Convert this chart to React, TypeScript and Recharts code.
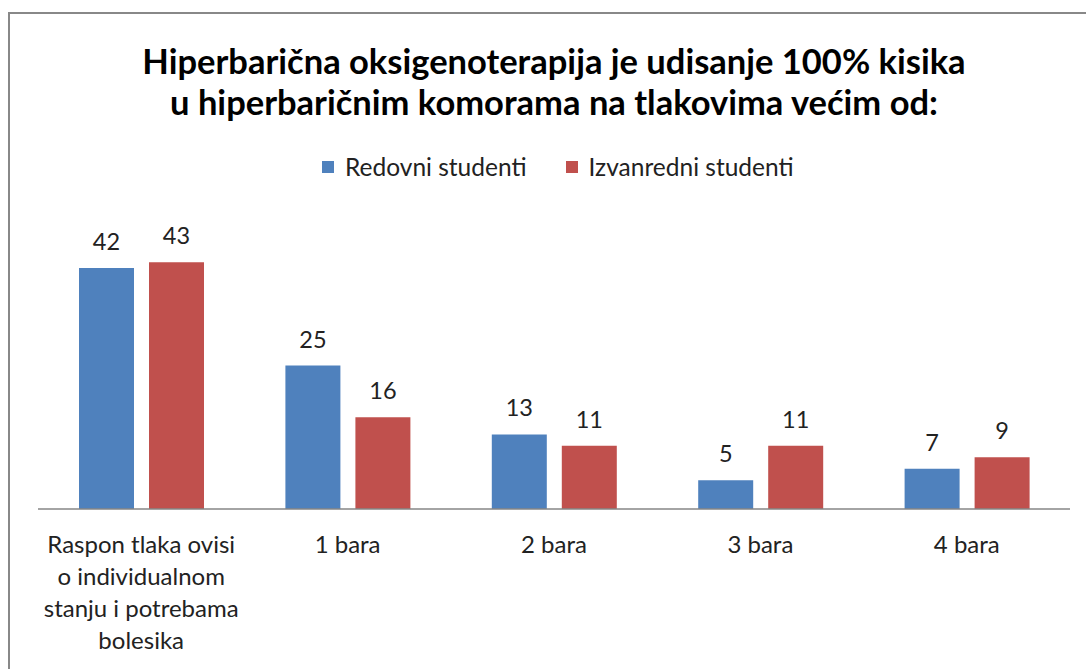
import React from 'react'
import { BarChart, Bar, XAxis, YAxis, LabelList } from 'recharts'

const categories = [
  'Raspon tlaka ovisi o individualnom stanju i potrebama bolesika',
  '1 bara',
  '2 bara',
  '3 bara',
  '4 bara',
]
const redovni = [42, 25, 13, 5, 7]
const izvanredni = [43, 16, 11, 11, 9]
const seriesNames = ['Redovni studenti', 'Izvanredni studenti']
const seriesColors = ['#4F81BD', '#C0504D']
const titleLines = [
  'Hiperbarična oksigenoterapija je udisanje 100% kisika',
  'u hiperbaričnim komorama na tlakovima većim od:',
]

const data = categories.map((c, i) => ({
  name: c,
  redovni: redovni[i],
  izvanredni: izvanredni[i],
}))

const FONT = 'Lato, "Open Sans", sans-serif'

function wrap(text: string, max: number) {
  const words = text.split(' ')
  const lines: string[] = []
  let cur = ''
  for (const w of words) {
    const next = cur ? cur + ' ' + w : w
    if (next.length > max && cur) {
      lines.push(cur)
      cur = w
    } else {
      cur = next
    }
  }
  if (cur) lines.push(cur)
  return lines
}

function CategoryTick({ x, y, payload }: any) {
  const lines = wrap(payload.value, 18)
  return (
    <text x={x} y={y + 36} textAnchor="middle" fill="#222" fontSize={24} fontFamily={FONT}>
      {lines.map((l, i) => (
        <tspan key={i} x={x} dy={i === 0 ? 0 : 32}>
          {l}
        </tspan>
      ))}
    </text>
  )
}

export default function App() {
  return (
    <div style={{
      position: 'absolute',
      left: 0,
      top: 0,
      width: 1086,
      height: 669,
      background: '#fff',
      overflow: 'hidden',
      fontFamily: FONT,
    }}>
      <div style={{
        position: 'absolute',
        left: 8,
        top: 12,
        width: 1200,
        height: 800,
        border: '2px solid #888',
      }} />
      <div style={{
        position: 'absolute',
        left: 0,
        top: 40,
        width: 1108,
        textAlign: 'center',
        fontSize: 34.5,
        fontWeight: 700,
        lineHeight: '41px',
        color: '#000',
      }}>
        {titleLines.map((t) => <div key={t}>{t}</div>)}
      </div>
      <div style={{
        position: 'absolute',
        left: 322,
        top: 151,
        display: 'flex',
        fontSize: 24.5,
        lineHeight: '32px',
        color: '#222',
      }}>
        {seriesNames.map((n, i) => (
          <div key={n} style={{ display: 'flex', alignItems: 'center', marginRight: i === 0 ? 39 : 0 }}>
            <span style={{ display: 'inline-block', width: 12, height: 12, background: seriesColors[i], marginRight: 11 }} />
            <span>{n}</span>
          </div>
        ))}
      </div>
      <div style={{ position: 'absolute', left: 0, top: 0 }}>
        <BarChart
          width={1086}
          height={669}
          data={data}
          margin={{ top: 222, right: 16, bottom: 0, left: 38 }}
          barSize={55}
          barGap={15}
        >
          <XAxis
            dataKey="name"
            height={160}
            tickLine={false}
            axisLine={{ stroke: '#868686', strokeWidth: 1.5 }}
            tick={<CategoryTick />}
            interval={0}
          />
          <YAxis hide domain={[0, 50]} />
          <Bar dataKey="redovni" fill={seriesColors[0]} isAnimationActive={false}>
            <LabelList dataKey="redovni" position="top" offset={18} fill="#222" fontSize={23.5} fontFamily={FONT} />
          </Bar>
          <Bar dataKey="izvanredni" fill={seriesColors[1]} isAnimationActive={false}>
            <LabelList dataKey="izvanredni" position="top" offset={18} fill="#222" fontSize={23.5} fontFamily={FONT} />
          </Bar>
        </BarChart>
      </div>
    </div>
  )
}
